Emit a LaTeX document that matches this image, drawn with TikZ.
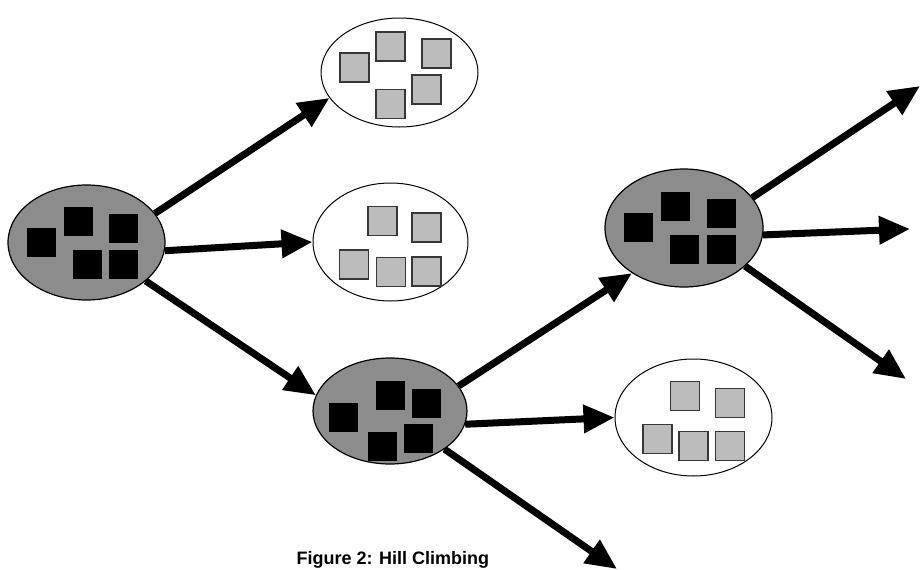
\documentclass[tikz,border=0pt]{standalone}
\usepackage{fontspec}
\newfontfamily\capfont{Liberation Sans}
\usepackage{xcolor}
\usetikzlibrary{positioning,arrows.meta,shapes.geometric}
\definecolor{stategray}{RGB}{140,140,140}
\definecolor{tilegray}{RGB}{188,188,188}
\definecolor{tileedge}{RGB}{55,55,55}
\tikzset{
  grystate/.style={ellipse,draw=black,line width=1.2pt,fill=stategray,inner sep=0pt},
  wstate/.style={ellipse,draw=black,line width=1pt,fill=white,inner sep=0pt},
  move/.style={line width=7pt,-{Triangle[length=31pt,width=27pt]}},
  blk/.style={fill=black},
  gry/.style={fill=tilegray,draw=tileedge,line width=1.5pt}
}

\begin{document}
\begin{tikzpicture}[x=1pt,y=-1pt]
  \useasboundingbox (0,0) rectangle (922,570);
  \def\h{14.5}
  % states
  \node[grystate,minimum width=157pt,minimum height=115pt] (s0) at (86.5,242.5) {};
  \node[wstate,minimum width=157pt,minimum height=109pt] (n1) at (399.5,72.5) {};
  \node[wstate,minimum width=155pt,minimum height=118pt] (n2) at (390.5,242) {};
  \node[grystate,minimum width=154pt,minimum height=106pt] (s1) at (390,411) {};
  \node[grystate,minimum width=158pt,minimum height=118pt] (s2) at (684,228) {};
  \node[wstate,minimum width=157pt,minimum height=117pt] (n3) at (693.5,417.5) {};
  % tiles in each state
  \foreach \x/\y in {41/242.5,78.5/221,123.5/228,87.5/264,123.5/264,
                     343.5/417,390.5/395.5,426.5/403,382.5/446.5,418.5/438.5,
                     638.5/227.5,675/206.5,721.5/213,684.5/249.5,721.5/249.5}
    \fill[blk] (\x-\h,\y-\h) rectangle ++(29,29);
  \foreach \x/\y in {354.5/67.5,390.5/46.5,436.5/53.5,426.5/89.5,390.5/104,
                     382.5/221,426.5/227.5,354/264.5,391/272,426.5/271.5,
                     685/396,730/403,657.5/439,693.5/446,730/446}
    \filldraw[gry] (\x-\h,\y-\h) rectangle ++(29,29);
  % open ends
  \coordinate (o1) at (617,569);
  \coordinate (o2) at (920,86);
  \coordinate (o3) at (910,229);
  \coordinate (o4) at (906,379);
  % moves
  \draw[move] (s0.23) -- (n1.200);
  \draw[move] (s0.354) -- (n2.180);
  \draw[move] (s0.327) -- (s1.168);
  \draw[move] (s1.20) -- (s2.221);
  \draw[move] (s1.350) -- (n3.180);
  \draw[move] (s1.325) -- (o1);
  \draw[move] (s2.24) -- (o2);
  \draw[move] (s2.355) -- (o3);
  \draw[move] (s2.328) -- (o4);
  \node[anchor=base west,font=\capfont\bfseries\fontsize{18}{20}\selectfont] (cap) at (293,564) {Figure 2: Hill Climbing};
\end{tikzpicture}
\end{document}
